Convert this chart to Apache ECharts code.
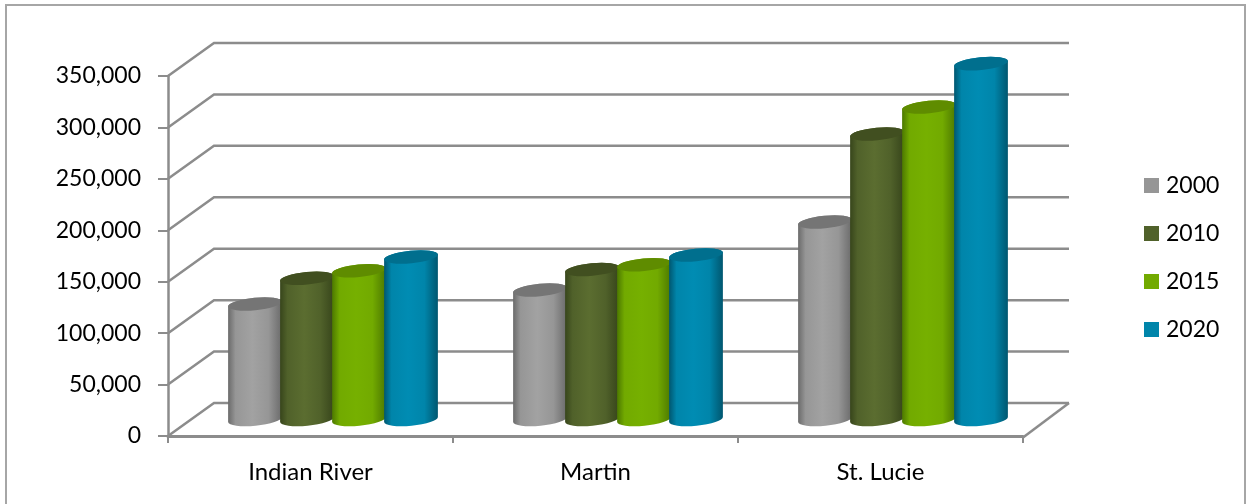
<!DOCTYPE html>
<html>
<head>
<meta charset="utf-8">
<style>html,body{margin:0;padding:0;background:#fff}#c{width:1246px;height:504px}</style>
<script src="https://cdn.jsdelivr.net/npm/echarts@6/dist/echarts.min.js"></script>
</head>
<body>
<div id="c"></div>
<script>
var categories = ['Indian River', 'Martin', 'St. Lucie'];
var years = ['2000', '2010', '2015', '2020'];
var v2000 = [112300, 125900, 192000];
var v2010 = [137300, 145800, 277600];
var v2015 = [144600, 150500, 303800];
var v2020 = [158000, 160000, 346000];
var yTicks = [0, 50000, 100000, 150000, 200000, 250000, 300000, 350000];

var seriesValues = [v2000, v2010, v2015, v2020];
var palettes = [
  {base:'#969696', edge:'#6a6a6a', mid:'#a2a2a2', top:'#757575'},
  {base:'#50612a', edge:'#37451b', mid:'#5b6d30', top:'#414f20'},
  {base:'#72aa00', edge:'#4c7800', mid:'#76b000', top:'#5f8c00'},
  {base:'#0085aa', edge:'#00566f', mid:'#008cb3', top:'#006f8e'}
];
var DX = 46, DY = 33, PITCH = 52, RX = 27, RY = 6.3, ROT = -5.5, BAR_DX = 22.5, FLOOR_DY = 16.5;

function cylinder(idx) {
  var p = palettes[idx];
  return function (params, api) {
    var cat = api.value(0), val = api.value(1);
    var c0 = api.coord([cat, 0]), c1 = api.coord([cat, val]);
    var cx = c0[0] + (idx - 1.5) * PITCH + BAR_DX;
    var by = c0[1] - FLOOR_DY, ty = c1[1] - FLOOR_DY;
    var a = ROT * Math.PI / 180;
    var ex = RX * Math.cos(a), ey = RX * Math.sin(a);
    var arc = 'A' + RX + ' ' + RY + ' ' + ROT + ' 0 0 ';
    var body = 'M' + (cx - ex) + ' ' + (ty - ey) +
      'L' + (cx - ex) + ' ' + (by - ey) +
      arc + (cx + ex) + ' ' + (by + ey) +
      'L' + (cx + ex) + ' ' + (ty + ey) +
      arc + (cx - ex) + ' ' + (ty - ey) + 'Z';
    var arcTop = 'A' + RX + ' ' + RY + ' ' + ROT + ' 0 1 ';
    var cap = 'M' + (cx - ex) + ' ' + (ty - ey) +
      arcTop + (cx + ex) + ' ' + (ty + ey) +
      arcTop + (cx - ex) + ' ' + (ty - ey) + 'Z';
    return {
      type: 'group',
      children: [
        {type: 'path', shape: {pathData: body},
         style: {fill: new echarts.graphic.LinearGradient(0, 0, 1, 0, [
           {offset: 0, color: p.edge}, {offset: 0.14, color: p.base}, {offset: 0.45, color: p.mid},
           {offset: 0.75, color: p.base}, {offset: 1, color: p.edge}])}},
        {type: 'path', shape: {pathData: cap}, style: {fill: p.top}}
      ]
    };
  };
}

function wall(params, api) {
  var tick = api.value(0);
  var left = api.coord([0, tick]);
  var right = api.coord([categories.length - 1, tick]);
  var band = api.size([1, 0])[0];
  var x0 = left[0] - band / 2, x1 = right[0] + band / 2, y = left[1];
  var children = [{
    type: 'polyline',
    shape: {points: [[x0, y], [x0 + DX, y - DY], [x1 + DX, y - DY]]},
    style: {fill: 'none', stroke: '#8c8c8c', lineWidth: 2.5}
  }];
  if (tick === 0) {
    children.push({
      type: 'line',
      shape: {x1: x1, y1: y + 1.5, x2: x1 + DX, y2: y - DY},
      style: {stroke: '#8c8c8c', lineWidth: 2.5}
    });
  }
  return {type: 'group', children: children};
}

var series = [{
  type: 'custom', name: 'walls', silent: true, z: 1, clip: false,
  renderItem: wall,
  encode: {y: 0},
  data: yTicks.map(function (t) { return [t]; })
}];
years.forEach(function (y, i) {
  series.push({
    type: 'custom', name: y, z: 2 + i, clip: false, silent: true,
    renderItem: cylinder(i),
    encode: {x: 0, y: 1},
    itemStyle: {color: palettes[i].base},
    data: seriesValues[i].map(function (v, c) { return [c, v]; })
  });
});

var chart = echarts.init(document.getElementById('c'), null, {renderer: 'canvas'});
chart.setOption({
  animation: false,
  backgroundColor: '#fff',
  textStyle: {fontFamily: 'Lato'},
  graphic: [{
    type: 'rect', silent: true, z: 0,
    shape: {x: 6, y: 5, width: 1239, height: 520},
    style: {fill: 'none', stroke: '#a6a6a6', lineWidth: 2}
  }],
  grid: {left: 168, top: 76, width: 855, height: 360, containLabel: false},
  legend: {
    data: years.map(function (y) { return {name: y, icon: 'rect'}; }),
    orient: 'vertical', left: 1139, top: 169, itemWidth: 15, itemHeight: 15, itemGap: 25,
    selectedMode: false,
    textStyle: {fontFamily: 'Lato', fontSize: 23, color: '#000', padding: [0, 0, 0, 2]}
  },
  tooltip: {show: false},
  xAxis: {
    type: 'category', data: categories, boundaryGap: true, offset: 1.5,
    axisLine: {lineStyle: {color: '#8c8c8c', width: 3}},
    axisTick: {show: true, alignWithLabel: false, length: 7, lineStyle: {color: '#8c8c8c', width: 2}},
    axisLabel: {fontFamily: 'Lato', fontSize: 24, color: '#000', margin: 23}
  },
  yAxis: {
    type: 'value', min: 0, max: 350000, interval: 50000,
    axisLine: {show: true, lineStyle: {color: '#8c8c8c', width: 2.5}},
    axisTick: {show: true, length: 10, lineStyle: {color: '#8c8c8c', width: 2}},
    splitLine: {show: false},
    axisLabel: {
      fontFamily: 'Lato', fontSize: 23, color: '#000', margin: 27, padding: [6, 0, 0, 0],
      formatter: function (v) { return v.toLocaleString('en-US'); }
    }
  },
  series: series
});
</script>
</body>
</html>
